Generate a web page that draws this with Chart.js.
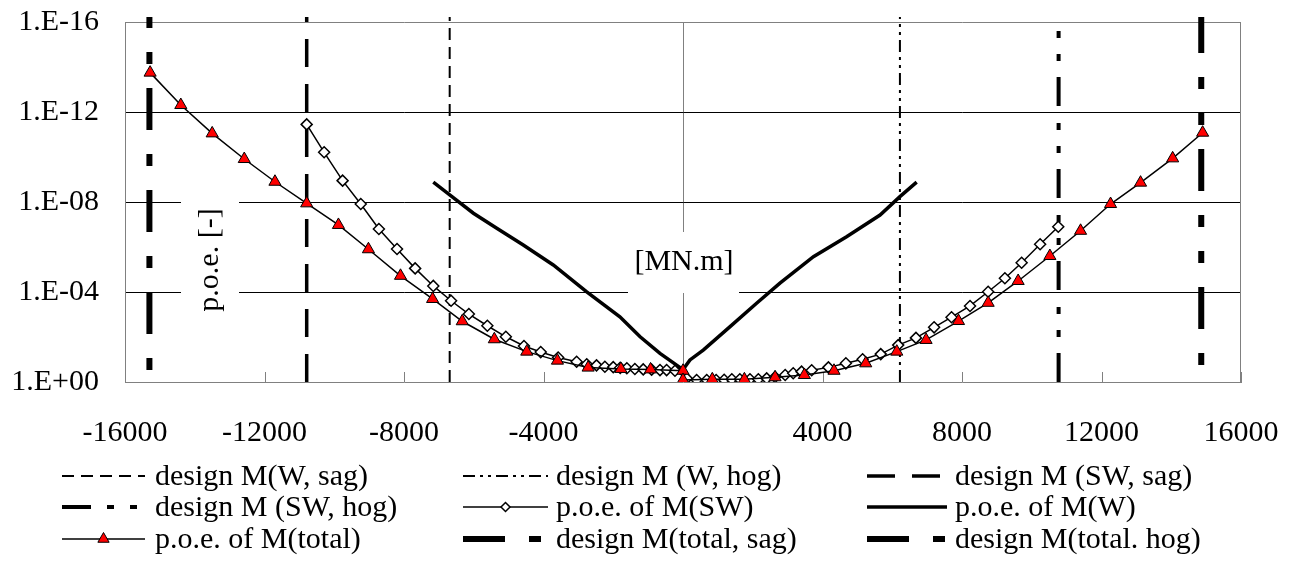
<!DOCTYPE html>
<html>
<head>
<meta charset="utf-8">
<script src="https://cdn.jsdelivr.net/npm/chart.js@4.4.0/dist/chart.umd.min.js"></script>
<style>
  body { margin: 0; background: #fff; }
  canvas { display: block; }
</style>
</head>
<body>
<canvas id="poe" width="1291" height="564"></canvas>
<script>
// axis ticks (y holds n in 1.E-n, i.e. -log10 of the p.o.e.)
const xTicks = [-16000, -12000, -8000, -4000, 0, 4000, 8000, 12000, 16000];
const yTicks = [0, 4, 8, 12, 16];
const yTickLabels = ['1.E+00', '1.E-04', '1.E-08', '1.E-12', '1.E-16'];

// p.o.e. of M(total)
const totalX = [-15280, -14400, -13500, -12580, -11700, -10790, -9880, -9020, -8100, -7180, -6330, -5410,
  -4480, -3600, -2720, -1780, -930, 0, 0, 840, 1760, 2640, 3480, 4330, 5240, 6130, 6970, 7900, 8750,
  9610, 10520, 11400, 12260, 13120, 14040, 14900];
const totalY = [13.75, 12.31, 11.05, 9.91, 8.90, 7.94, 6.98, 5.90, 4.72, 3.69, 2.70, 1.90,
  1.35, 0.95, 0.64, 0.58, 0.56, 0.50, 0.09, 0.12, 0.12, 0.21, 0.31, 0.50, 0.83, 1.35, 1.87, 2.71, 3.52,
  4.49, 5.60, 6.72, 7.91, 8.86, 9.94, 11.08];

// p.o.e. of M(SW)
const swX = [-10790, -10290, -9760, -9240, -8720, -8200, -7680, -7160, -6650, -6140, -5610, -5080, -4560,
  -4080, -3580, -3050, -2760, -2480, -2240, -2000, -1800, -1610, -1380, -1140, -900, -660, -470, -230,
  110, 390, 680, 950, 1180, 1400, 1630, 1920, 2160, 2400, 2640, 2930, 3160, 3400, 3690, 4170, 4670,
  5150, 5670, 6170, 6680, 7200, 7700, 8230, 8750, 9230, 9710, 10240, 10760];
const swY = [11.45, 10.21, 8.95, 7.91, 6.80, 5.91, 5.05, 4.27, 3.61, 3.02, 2.50, 2.01, 1.60,
  1.33, 1.09, 0.90, 0.79, 0.74, 0.68, 0.66, 0.63, 0.61, 0.58, 0.56, 0.55, 0.53, 0.53, 0.50,
  0.16, 0.09, 0.09, 0.09, 0.10, 0.12, 0.12, 0.12, 0.12, 0.16, 0.22, 0.31, 0.39, 0.46, 0.52, 0.65, 0.83,
  1.01, 1.24, 1.64, 1.96, 2.43, 2.88, 3.38, 4.01, 4.61, 5.30, 6.12, 6.90];

// p.o.e. of M(W)
const wX = [-7160, -6680, -6010, -5340, -4580, -3720, -2760, -1810, -1230, -660, 0,
  200, 580, 1350, 2110, 2780, 3740, 4690, 5650, 6220, 6700];
const wY = [8.88, 8.31, 7.50, 6.83, 6.09, 5.20, 4.01, 2.90, 2.01, 1.27, 0.55,
  0.98, 1.42, 2.46, 3.50, 4.39, 5.57, 6.46, 7.42, 8.24, 8.88];

// design moments [MN.m]
const designLabels = ['design M(W, sag)', 'design M (W, hog)', 'design M (SW, sag)',
  'design M (SW, hog)', 'design M(total, sag)', 'design M(total. hog)'];
const designX = [-6690, 6220, -10790, 10770, -15300, 14860];
const designTop = 16.22;

const designStyle = [
  { width: 2, dash: [12, 7], offset: 0 },
  { width: 2, dash: [12, 5, 3, 5, 3, 5], offset: 0 },
  { width: 3.5, dash: [28, 17], offset: 0 },
  { width: 4, dash: [29, 16, 7, 16, 7, 17], offset: 0 },
  { width: 6, dash: [42, 24, 12, 24], offset: 54 },
  { width: 6, dash: [42, 24, 12, 24, 12, 24], offset: 85 }
];

const FONT = '"Liberation Serif", "Times New Roman", serif';
const GREY = '#808080';

function pts(xs, ys) {
  return xs.map((x, i) => ({ x: x, y: ys[i] }));
}

const datasets = [
  {
    label: 'p.o.e. of M(total)', data: pts(totalX, totalY), showLine: true,
    borderColor: '#000', borderWidth: 1.5, pointStyle: 'triangle', pointRadius: 7,
    pointBackgroundColor: '#ff0000', pointBorderColor: '#000', pointBorderWidth: 1
  },
  {
    label: 'p.o.e. of M(SW)', data: pts(swX, swY), showLine: true,
    borderColor: '#000', borderWidth: 1.5, pointStyle: 'rectRot', pointRadius: 5.5,
    pointBackgroundColor: '#fff', pointBorderColor: '#000', pointBorderWidth: 1.5
  },
  {
    label: 'p.o.e. of M(W)', data: pts(wX, wY), showLine: true,
    borderColor: '#000', borderWidth: 3.5, pointRadius: 0
  }
];

designLabels.forEach((lab, i) => {
  const st = designStyle[i];
  datasets.push({
    label: lab,
    data: [{ x: designX[i], y: 0 }, { x: designX[i], y: designTop }],
    showLine: true, borderColor: '#000', borderWidth: st.width,
    borderDash: st.dash, borderDashOffset: st.offset, borderCapStyle: 'butt',
    pointRadius: 0, clip: false
  });
});

const legendOrder = ['design M(W, sag)', 'design M (W, hog)', 'design M (SW, sag)',
  'design M (SW, hog)', 'p.o.e. of M(SW)', 'p.o.e. of M(W)',
  'p.o.e. of M(total)', 'design M(total, sag)', 'design M(total. hog)'];

function drawMarker(ctx, ds, x, y, r) {
  ctx.save();
  ctx.setLineDash([]);
  ctx.beginPath();
  if (ds.pointStyle === 'triangle') {
    ctx.moveTo(x, y - r);
    ctx.lineTo(x + r * Math.sin(2 * Math.PI / 3), y - r * Math.cos(2 * Math.PI / 3));
    ctx.lineTo(x + r * Math.sin(4 * Math.PI / 3), y - r * Math.cos(4 * Math.PI / 3));
  } else {
    ctx.moveTo(x, y - r);
    ctx.lineTo(x + r, y);
    ctx.lineTo(x, y + r);
    ctx.lineTo(x - r, y);
  }
  ctx.closePath();
  ctx.fillStyle = ds.pointBackgroundColor;
  ctx.fill();
  ctx.lineWidth = ds.pointBorderWidth;
  ctx.strokeStyle = '#000';
  ctx.stroke();
  ctx.restore();
}

const decor = {
  id: 'decor',
  beforeDatasetsDraw(chart) {
    const ctx = chart.ctx;
    const a = chart.chartArea;
    const xs = chart.scales.x;
    ctx.save();
    // right border of plot area
    ctx.strokeStyle = GREY;
    ctx.lineWidth = 1;
    ctx.beginPath();
    ctx.moveTo(a.right - 0.5, a.top);
    ctx.lineTo(a.right - 0.5, a.bottom);
    ctx.stroke();
    // inside tick marks on the x axis
    xTicks.forEach(v => {
      const px = Math.round(xs.getPixelForValue(v)) + 0.5;
      ctx.beginPath();
      ctx.moveTo(px, a.bottom);
      ctx.lineTo(px, a.bottom - 10);
      ctx.stroke();
    });
    // axis titles with white boxes
    ctx.fillStyle = '#fff';
    ctx.fillRect(628, 232, 111, 61);
    ctx.fillRect(181, 195, 58, 130);
    ctx.fillStyle = '#000';
    ctx.font = '30px ' + FONT;
    ctx.textAlign = 'center';
    ctx.textBaseline = 'middle';
    ctx.fillText('[MN.m]', 684, 262);
    ctx.translate(210, 260);
    ctx.rotate(-Math.PI / 2);
    ctx.fillText('p.o.e. [-]', 0, 0);
    ctx.restore();
  },
  afterDraw(chart) {
    const ctx = chart.ctx;
    const sampleStart = [62, 463, 867];
    const sampleEnd = [145, 548, 947];
    const textX = [155, 556, 955];
    const rowY = [476, 507, 539];
    ctx.save();
    legendOrder.forEach((lab, k) => {
      const ds = chart.data.datasets.find(d => d.label === lab);
      const col = k % 3, row = Math.floor(k / 3);
      const y = rowY[row];
      ctx.strokeStyle = '#000';
      ctx.lineWidth = ds.borderWidth;
      ctx.lineCap = 'butt';
      ctx.setLineDash(ds.borderDash || []);
      ctx.lineDashOffset = 0;
      ctx.beginPath();
      ctx.moveTo(sampleStart[col], y);
      ctx.lineTo(sampleEnd[col], y);
      ctx.stroke();
      ctx.setLineDash([]);
      if (ds.pointRadius > 0) {
        const r = ds.pointStyle === 'triangle' ? 6.5 : 4.5;
        drawMarker(ctx, ds, (sampleStart[col] + sampleEnd[col]) / 2, y, r);
      }
      ctx.fillStyle = '#000';
      ctx.font = '30px ' + FONT;
      ctx.textAlign = 'left';
      ctx.textBaseline = 'middle';
      ctx.fillText(lab, textX[col], y + 1);
    });
    ctx.restore();
  }
};

new Chart(document.getElementById('poe'), {
  type: 'scatter',
  data: { datasets: datasets },
  options: {
    responsive: false,
    animation: false,
    events: [],
    devicePixelRatio: 1,
    layout: { padding: { top: 22, right: 50, left: 0, bottom: 0 } },
    plugins: { legend: { display: false }, tooltip: { enabled: false } },
    scales: {
      x: {
        type: 'linear', min: -16000, max: 16000,
        afterBuildTicks: s => { s.ticks = xTicks.map(v => ({ value: v })); },
        afterFit: s => { s.height = 182; s.paddingLeft = 0; s.paddingRight = 0; },
        border: { color: GREY, width: 1 },
        grid: {
          drawTicks: false,
          color: c => (c.tick && c.tick.value === 0) ? GREY : 'rgba(0,0,0,0)'
        },
        ticks: {
          padding: 33, color: '#000', maxRotation: 0, autoSkip: false,
          font: { family: FONT, size: 30 },
          callback: v => v === 0 ? '' : String(v)
        }
      },
      y: {
        type: 'linear', min: 0, max: 16,
        afterBuildTicks: s => { s.ticks = yTicks.map(v => ({ value: v })); },
        afterFit: s => { s.width = 125; s.paddingTop = 0; s.paddingBottom = 0; },
        border: { color: GREY, width: 1 },
        grid: {
          drawTicks: false,
          color: c => {
            const v = c.tick ? c.tick.value : -1;
            if (v === 0) return 'rgba(0,0,0,0)';
            if (v === 16) return GREY;
            return '#000';
          }
        },
        ticks: {
          padding: 26, color: '#000',
          font: { family: FONT, size: 30 },
          callback: v => yTickLabels[yTicks.indexOf(v)]
        }
      }
    }
  },
  plugins: [decor]
});
</script>
</body>
</html>
